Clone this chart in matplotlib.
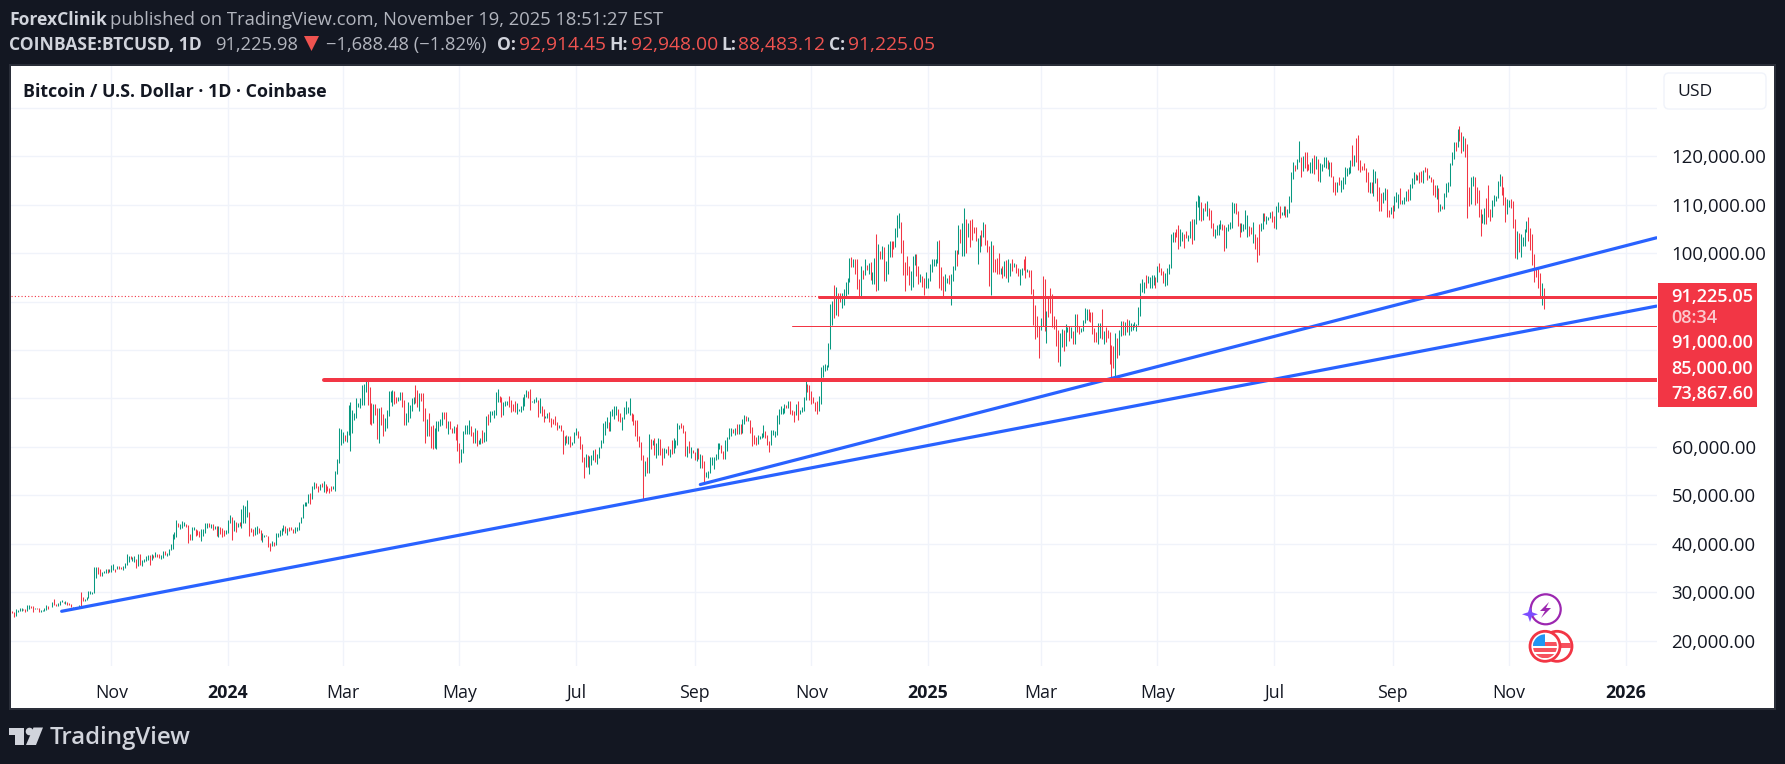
import matplotlib
matplotlib.use("Agg")
from matplotlib import pyplot as plt
from matplotlib.patches import Rectangle, FancyBboxPatch, Circle, Polygon
import matplotlib.dates as mdates
import pandas as pd

plt.rcParams['font.family'] = ['Open Sans', 'DejaVu Sans']

# daily high / low in thousands of USD, one set per month, c = bar colour
h_2309 = [26.2,25.9,26.5,26.4,26.7,26.8,26.6,26.6,27.4,27.4,27.2,27.1,26.7,26.7,26.7,26.3,26.4,26.8,27.3,27.2,27.0]
l_2309 = [25.6,24.9,25.1,25.8,26.1,26.2,26.4,26.0,26.2,26.6,26.7,26.0,26.5,26.5,26.0,26.0,26.1,26.2,26.4,26.6,26.9]
c_2309 = "rrggggrrggrrgrrggggrg"
h_2310 = [28.0,28.6,27.6,27.8,28.1,28.3,28.0,28.1,28.0,27.7,27.5,26.9,27.0,27.0,27.3,30.0,28.9,28.6,29.0,30.2,30.2,30.1,35.2,35.2,35.1,34.8,34.2,34.4,34.8,34.8,34.7]
l_2310 = [27.0,27.4,27.2,27.2,27.4,27.9,27.8,27.5,27.3,27.3,27.0,26.6,26.7,26.8,26.9,27.1,28.1,28.1,28.4,28.8,29.6,29.6,29.8,32.9,33.7,33.4,33.4,33.9,34.0,34.0,34.1]
c_2310 = "grrgggrgrrrgrggrrgggggggrrgggrg"
h_2311 = [35.6,35.9,34.8,35.3,35.4,35.2,35.3,36.0,37.9,37.5,37.4,37.2,37.4,36.8,37.9,37.9,36.7,36.8,37.5,37.7,37.6,37.8,37.7,38.3,37.8,37.8,37.6,38.4,38.4,38.0]
l_2311 = [34.1,34.5,34.1,34.7,34.8,34.8,34.5,35.0,35.6,36.3,36.8,36.4,36.3,35.0,35.4,35.6,35.5,36.2,36.5,36.6,35.7,36.7,37.0,37.2,37.3,37.1,36.9,37.0,37.6,37.5]
c_2311 = "ggrgrrggggrggrgrggggrgrgrrggrg"
h_2312 = [39.0,39.9,42.0,42.5,45.0,44.3,44.0,44.7,44.4,44.0,43.8,42.0,43.4,43.4,43.1,42.8,42.6,43.0,43.0,44.2,44.2,44.3,44.0,44.0,43.7,43.6,43.7,43.5,43.2,42.9,42.8]
l_2312 = [37.6,38.7,39.0,41.0,41.4,43.4,43.0,43.2,43.6,43.5,40.2,40.7,40.7,42.9,41.6,41.8,41.3,40.6,41.6,42.2,43.3,43.4,43.3,42.9,43.1,41.5,41.4,42.1,41.4,41.6,42.0]
c_2312 = "gggggrgggrrrggrrrggggrgrgrgrrrg"
h_2401 = [44.9,45.9,45.5,44.8,44.4,44.2,44.5,47.2,47.9,47.7,49.0,46.5,43.2,43.0,43.4,43.6,43.2,42.9,42.2,41.9,41.9,41.7,40.1,40.6,40.3,42.2,42.2,42.8,43.3,43.9,43.7]
l_2401 = [42.2,44.3,40.8,42.6,42.5,43.4,43.6,43.2,44.3,44.3,45.6,41.5,42.4,41.7,41.8,42.1,42.2,40.7,40.3,41.4,41.5,39.4,38.5,39.5,39.5,39.8,41.4,41.6,41.8,42.7,42.3]
c_2401 = "ggrgrgrggggrrrggrrggrrrgrgggggr"
h_2402 = [43.3,43.4,43.4,43.1,43.5,43.4,44.4,45.6,48.2,48.6,48.6,50.3,50.4,52.0,52.8,52.6,52.0,52.4,52.5,52.9,52.4,52.0,51.5,51.9,51.9,55.0,57.6,63.9,63.6]
l_2402 = [41.9,42.6,42.9,42.3,42.3,42.6,42.8,44.3,45.3,47.7,47.7,48.4,48.3,49.3,51.3,51.6,50.6,51.1,51.7,50.7,50.5,50.9,50.5,50.9,51.3,50.9,54.4,56.7,60.4]
c_2402 = "grrrggggggggrggrrgrgrrrrggggg"
h_2403 = [63.1,62.4,63.2,68.6,69.3,67.6,67.0,70.0,69.0,70.0,72.8,73.0,73.8,73.8,72.4,69.0,68.8,68.9,68.1,68.1,68.2,66.7,65.9,67.6,71.5,71.5,71.7,71.5,70.3,70.3,71.4]
l_2403 = [60.8,61.3,61.1,62.4,59.2,62.9,65.6,66.0,68.2,68.0,68.7,68.7,71.4,68.7,64.7,64.6,65.0,66.6,61.6,60.8,64.6,62.3,63.3,63.8,66.4,69.3,68.4,68.9,69.0,69.5,69.6]
c_2403 = "grgggggggggggrrrgrrgrrgggggrrgg"
h_2404 = [71.3,69.7,66.9,69.3,68.7,70.0,70.3,72.7,71.7,71.2,71.2,71.2,68.0,65.8,66.9,64.4,64.5,64.0,65.4,65.4,65.7,67.2,67.2,67.2,65.3,65.3,64.0,64.4,64.2,64.7]
l_2404 = [68.2,64.5,64.5,65.1,66.0,67.5,68.8,69.0,68.2,67.5,69.5,65.3,60.8,62.2,62.3,59.7,59.6,59.7,59.5,63.2,64.3,64.6,65.7,63.8,62.7,63.7,62.9,62.8,61.4,59.2]
c_2404 = "rrgggggrrgrrrgrrrgggggrrgrrgrr"
h_2405 = [60.8,59.6,63.3,64.5,64.6,65.5,64.4,63.0,63.9,63.5,61.5,61.9,63.4,63.1,66.4,66.7,67.4,67.4,67.7,71.4,71.9,70.6,70.2,69.2,69.5,69.5,70.6,69.6,68.9,69.5,69.0]
l_2405 = [56.6,56.9,58.8,62.6,62.7,62.7,62.3,60.9,60.7,60.2,60.5,60.6,60.8,61.1,61.3,64.6,65.1,66.6,65.9,66.6,69.2,69.2,66.2,66.6,68.5,68.6,68.2,67.2,67.5,67.2,66.7]
c_2405 = "rgggggrrgrggrggrgggggrrgggrrrrg"
h_2406 = [67.8,68.4,70.2,71.0,71.7,71.6,71.9,69.5,69.9,70.2,69.6,70.0,68.4,67.9,66.4,66.9,67.3,66.0,65.7,66.4,65.1,64.5,64.5,63.4,62.3,62.4,62.3,62.2,61.0,63.0]
l_2406 = [67.4,67.3,67.6,68.5,70.4,70.1,67.6,69.2,69.1,69.2,66.1,66.9,66.3,65.1,65.9,66.0,65.1,64.1,64.7,64.6,63.4,64.0,63.3,58.5,60.4,60.7,60.6,60.0,60.4,60.8]
c_2406 = "gggggrrgggrgrrggrrrrrgrrgrgrgg"
h_2407 = [63.8,63.3,62.3,60.5,58.0,58.5,58.4,58.2,58.3,59.4,59.5,58.6,60.0,61.4,65.0,65.4,66.1,65.1,67.5,67.8,68.4,68.5,67.8,67.1,66.1,68.3,69.4,68.3,70.0,67.0,66.8]
l_2407 = [62.5,61.8,59.5,56.8,53.5,55.9,55.8,54.3,56.3,57.2,56.9,56.5,57.8,59.8,60.7,62.4,63.9,63.2,63.3,66.3,65.8,66.6,65.4,65.1,63.5,65.7,66.7,67.1,66.6,65.3,64.5]
c_2407 = "grrrrgrgggrggggggrggggrrgggggrr"
h_2408 = [65.6,65.6,62.2,61.1,58.3,57.0,57.9,62.7,61.7,61.4,61.8,60.7,61.8,61.7,59.8,59.8,59.6,60.2,59.6,61.4,61.8,61.4,64.9,64.5,65.0,64.5,63.2,60.2,61.2,60.0,59.4]
l_2408 = [62.3,61.2,60.0,57.2,49.1,53.9,54.6,54.7,59.6,60.3,58.3,57.7,58.4,58.4,56.2,57.7,58.8,58.4,57.9,58.5,58.8,59.8,60.3,63.6,63.8,62.8,58.1,57.9,58.7,57.8,58.8]
c_2408 = "rrrrrgrgrgrggrrggrgrggggrrrgrgr"
h_2409 = [59.0,59.8,59.8,58.5,58.3,57.0,54.8,55.0,58.0,58.0,58.0,58.6,60.7,60.7,60.4,59.2,61.4,62.0,63.8,64.0,63.6,63.9,64.7,64.7,64.8,65.8,66.5,66.3,66.1,65.5]
l_2409 = [57.2,57.1,57.4,55.6,55.6,52.5,53.7,53.6,54.6,56.3,55.5,57.3,57.6,59.5,58.7,57.5,57.6,59.2,61.6,62.3,62.8,62.4,62.6,62.7,62.7,62.9,64.8,65.4,65.4,62.9]
c_2409 = "rgrgrrggggggggrrggggrgrgrggrgr"
h_2410 = [64.1,62.4,62.0,62.4,62.2,62.9,64.5,63.2,62.5,61.3,63.4,63.4,63.2,66.5,67.9,68.4,68.0,68.9,68.7,69.4,69.4,67.7,67.4,68.8,69.4,67.6,68.2,70.2,73.6,72.9,72.7]
l_2410 = [60.2,60.5,60.3,60.5,61.7,61.8,62.1,61.9,60.3,58.9,60.4,62.4,62.0,62.4,64.8,66.7,66.8,67.0,68.0,68.1,66.7,66.6,65.2,66.5,65.6,66.7,67.3,67.5,69.7,71.4,69.6]
c_2410 = "rrrggggrrrggggggggrgrrrgrggggrr"
h_2411 = [71.6,70.3,69.3,69.5,70.5,76.4,76.9,77.2,77.0,81.5,89.6,90.2,93.4,93.0,91.8,91.8,91.7,92.6,94.0,94.9,99.0,99.3,98.9,98.7,98.9,94.7,97.4,96.6,98.7,97.5]
l_2411 = [68.8,69.0,67.4,66.8,67.5,68.8,74.5,75.6,75.9,76.5,80.2,85.1,86.6,87.3,87.0,90.0,88.7,89.4,90.9,91.5,94.1,97.2,97.2,95.7,92.6,90.8,91.0,94.7,95.4,96.5]
c_2411 = "rrrrggggggggrgrrgggggrgrrrgrgr"
h_2412 = [97.9,98.2,96.2,99.0,104.0,102.0,100.5,101.4,101.2,98.3,101.9,102.5,102.5,102.5,105.2,107.9,108.2,106.5,102.7,98.2,99.5,97.4,96.4,99.4,99.9,99.9,97.3,95.7,95.2,94.9,96.1]
l_2412 = [95.8,94.5,93.6,93.6,92.2,92.5,98.8,98.7,94.2,94.2,95.7,99.3,99.2,100.8,101.3,103.3,105.3,100.0,95.6,92.2,95.4,93.4,92.3,93.0,97.6,95.2,93.6,94.1,93.1,91.3,92.9]
c_2412 = "grggrgrgrgggrrgggrrrrrgggrrgrrg"
h_2501 = [94.9,97.8,98.9,98.7,98.8,102.5,102.7,97.2,95.3,95.8,94.9,95.4,95.7,97.3,100.7,100.7,105.9,104.9,106.3,109.4,107.1,106.3,106.8,107.1,105.4,105.4,103.2,103.7,104.7,106.4,106.0]
l_2501 = [92.8,94.2,96.1,97.3,97.3,97.9,92.8,92.5,91.2,92.2,93.9,93.7,89.3,94.3,96.5,97.3,99.9,102.2,99.5,99.4,100.1,103.3,101.2,102.8,104.1,102.5,97.7,100.3,101.4,103.3,101.6]
c_2501 = "ggggggrrrggrgggrgrggrgrrrrggrgr"
h_2502 = [102.7,101.4,102.5,101.7,98.8,99.1,100.1,96.9,97.3,98.3,98.5,98.7,97.9,98.8,97.9,97.7,97.0,96.7,96.9,98.7,99.5,96.8,96.5,96.6,92.7,89.4,87.1,85.0]
l_2502 = [100.3,93.3,91.3,96.2,96.2,95.7,95.7,95.7,94.8,95.3,94.9,94.1,95.3,96.3,97.2,96.0,95.2,93.4,95.4,96.5,94.8,96.2,95.1,91.5,85.1,82.3,82.7,78.3]
c_2502 = "rrgrrrrgrgrggrgrrggrrgrrrrrr"
h_2503 = [86.6,95.2,94.6,88.0,91.0,92.9,91.5,87.0,86.5,84.1,83.6,84.4,84.2,85.3,84.7,85.0,84.8,84.0,87.4,87.4,85.0,84.5,86.2,88.7,88.5,88.4,87.9,87.9,84.6,83.8,85.5]
l_2503 = [84.2,85.0,83.9,81.4,86.8,87.6,84.7,84.3,80.8,77.5,76.7,80.6,79.9,80.8,83.7,81.9,82.5,81.3,81.3,83.7,83.3,83.7,83.9,85.5,86.3,85.9,85.8,83.4,81.6,81.6,81.3]
c_2503 = "grrgrrrrrrggrggrgrgrrggggrrrrrg"
h_2504 = [85.5,88.5,83.9,84.7,84.2,83.7,81.1,80.9,83.5,82.5,84.2,85.9,86.1,85.8,86.4,86.3,85.5,85.4,85.7,85.3,88.8,93.9,94.7,94.0,95.5,95.3,95.0,95.6,95.5,95.0]
l_2504 = [82.4,82.3,81.2,81.6,82.4,77.2,74.4,76.2,74.6,78.4,79.0,82.9,83.1,83.1,83.7,83.1,83.9,84.1,84.7,83.9,85.1,87.1,91.9,91.7,92.9,93.9,92.9,92.9,93.4,92.9]
c_2504 = "grgrrrrrgrggrgrgggggggggrggggr"
h_2505 = [97.4,97.9,97.0,96.3,95.9,96.9,97.7,103.9,104.4,104.4,104.9,105.8,104.9,104.3,104.0,104.6,103.8,106.7,107.1,107.0,110.7,112.0,111.9,110.5,109.4,110.4,110.7,109.3,108.9,106.3,104.9]
l_2505 = [94.0,96.2,95.6,93.9,93.3,93.4,95.8,96.9,102.3,102.3,103.4,100.8,101.4,102.6,101.1,103.1,102.6,103.1,102.0,102.8,106.1,109.5,106.8,106.7,106.8,108.7,107.6,106.8,105.3,103.6,103.1]
c_2505 = "grrrgggggrrrggrrggrggggrgrgrrrg"
h_2506 = [105.8,106.0,106.8,106.0,105.9,105.4,106.0,106.4,110.6,110.4,110.4,108.8,106.2,106.2,106.1,108.9,107.8,105.6,105.4,106.5,103.9,103.4,106.0,106.2,108.2,108.3,107.7,107.5,108.5,108.8]
l_2506 = [103.7,103.7,105.0,104.7,100.4,101.1,104.5,105.0,105.3,108.4,108.0,105.6,103.4,104.3,104.5,105.0,103.4,103.5,103.9,102.2,100.8,98.2,99.6,104.6,105.0,106.6,106.0,106.8,107.2,106.4]
c_2506 = "gggrrgggggrrrggggrrgrrrggrgggr"
h_2507 = [107.6,109.7,110.6,109.8,108.5,109.7,109.8,109.2,111.9,116.8,118.9,118.2,119.5,123.2,119.9,120.0,120.9,120.9,118.5,118.9,119.7,120.2,120.0,119.5,118.6,118.5,119.8,119.9,119.2,118.8,118.9]
l_2507 = [105.2,105.1,108.6,107.3,107.8,107.8,107.5,107.4,108.4,110.6,115.3,116.9,117.3,118.9,115.7,116.9,117.5,116.9,117.2,116.6,116.6,116.3,117.3,115.0,114.7,117.0,117.8,117.5,117.4,115.9,115.7]
c_2507 = "rggrggrggggrggrgrrrggrgrggggrgr"
h_2508 = [116.0,114.8,114.8,115.8,115.1,115.7,117.7,117.6,117.9,119.3,122.3,120.3,123.7,124.5,119.2,118.0,118.6,117.6,116.8,114.8,114.8,117.4,117.0,115.6,113.6,112.4,112.6,113.4,113.3,108.9,109.5]
l_2508 = [112.7,112.0,112.7,114.1,112.7,113.3,114.3,115.9,116.3,116.6,118.1,118.0,118.9,117.2,116.8,117.2,117.2,114.7,112.6,112.4,112.4,111.8,114.4,110.8,108.7,108.7,110.4,110.9,107.4,107.4,108.0]
c_2508 = "rrgrggggggrgrrrrrrrgrggrrrggrrg"
h_2509 = [109.9,111.8,112.6,112.2,113.4,111.0,111.7,112.9,113.2,114.3,115.5,116.7,116.4,116.1,116.8,117.0,117.2,117.9,117.5,116.2,115.8,115.4,114.0,114.0,113.5,110.2,109.8,112.4,114.5,114.8]
l_2509 = [107.3,108.8,110.6,109.3,110.2,110.2,110.2,110.7,110.8,110.9,113.4,114.2,115.2,115.2,114.4,114.8,114.6,116.8,115.1,115.5,114.8,112.0,111.7,111.1,108.6,108.7,109.2,109.1,111.6,112.7]
c_2509 = "rgggrgggrgggrgrrgrrgrrrgrgrggg"
h_2510 = [118.7,121.0,122.9,122.9,125.7,126.3,125.1,124.2,123.8,122.5,113.6,115.8,116.0,115.8,113.6,113.1,109.2,108.0,109.4,111.5,114.0,109.2,110.9,112.0,111.9,114.9,116.3,116.0,113.6,111.6,111.2]
l_2510 = [113.9,118.2,119.4,121.1,122.0,123.1,120.6,121.1,119.8,107.2,109.7,110.2,113.8,109.9,110.3,107.5,103.6,106.3,106.1,106.1,107.4,106.7,107.5,109.8,110.7,111.3,113.8,112.1,109.9,106.4,108.0]
c_2510 = "gggrgrrgrrrggrrrrggrrrgggggrrrg"
h_2511 = [111.0,111.2,110.8,107.0,104.5,104.1,104.0,103.4,105.0,106.6,107.5,105.3,104.0,99.9,97.0,96.7,96.0,93.9,92.9]
l_2511 = [109.6,109.4,105.3,99.0,98.9,100.3,99.3,101.4,101.5,104.3,102.5,100.6,97.6,94.1,95.1,92.9,91.2,89.3,88.5]
c_2511 = "grrrgrggggrrrrrrrgr"

month_starts = ["2023-09-10", "2023-10-01", "2023-11-01", "2023-12-01", "2024-01-01", "2024-02-01", "2024-03-01",
                "2024-04-01", "2024-05-01", "2024-06-01", "2024-07-01", "2024-08-01", "2024-09-01", "2024-10-01",
                "2024-11-01", "2024-12-01", "2025-01-01", "2025-02-01", "2025-03-01", "2025-04-01", "2025-05-01",
                "2025-06-01", "2025-07-01", "2025-08-01", "2025-09-01", "2025-10-01", "2025-11-01"]
month_highs = [h_2309, h_2310, h_2311, h_2312, h_2401, h_2402, h_2403, h_2404, h_2405, h_2406, h_2407, h_2408, h_2409,
               h_2410, h_2411, h_2412, h_2501, h_2502, h_2503, h_2504, h_2505, h_2506, h_2507, h_2508, h_2509, h_2510, h_2511]
month_lows = [l_2309, l_2310, l_2311, l_2312, l_2401, l_2402, l_2403, l_2404, l_2405, l_2406, l_2407, l_2408, l_2409,
              l_2410, l_2411, l_2412, l_2501, l_2502, l_2503, l_2504, l_2505, l_2506, l_2507, l_2508, l_2509, l_2510, l_2511]
month_colors = [c_2309, c_2310, c_2311, c_2312, c_2401, c_2402, c_2403, c_2404, c_2405, c_2406, c_2407, c_2408, c_2409,
                c_2410, c_2411, c_2412, c_2501, c_2502, c_2503, c_2504, c_2505, c_2506, c_2507, c_2508, c_2509, c_2510, c_2511]

# trend lines (date, price)
trend1_dates = ["2023-10-06", "2026-01-17"]
trend1_prices = [26050, 89070]
trend2_dates = ["2024-09-04", "2026-01-17"]
trend2_prices = [52230, 103180]

# horizontal levels: start date, price, width in px
level_starts = ["2024-11-05", "2024-10-22", "2024-02-20"]
level_prices = [91000, 85000, 73867.6]
level_widths = [3, 1, 4]
last_price = 91225.05

xtick_dates = ["2023-11-01", "2024-01-01", "2024-03-01", "2024-05-01", "2024-07-01", "2024-09-01", "2024-11-01",
               "2025-01-01", "2025-03-01", "2025-05-01", "2025-07-01", "2025-09-01", "2025-11-01", "2026-01-01"]
xtick_labels = ["Nov", "2024", "Mar", "May", "Jul", "Sep", "Nov", "2025", "Mar", "May", "Jul", "Sep", "Nov", "2026"]
ytick_values = list(range(20000, 130001, 10000))
hidden_ylabels = [70000, 80000, 90000, 130000]

price_tags = ["91,225.05", "08:34", "91,000.00", "85,000.00", "73,867.60"]

BG = '#131722'
RED = '#f23645'
GREEN = '#089981'
BLUE = '#2962ff'
GRID = '#f0f3fa'
W, H = 1785, 764

def d2n(s):
    return mdates.date2num(pd.Timestamp(s))

fig = plt.figure(figsize=(W / 100, H / 100), dpi=100, facecolor=BG)

# pixel overlay behind the chart for the white panel
back = fig.add_axes([0, 0, 1, 1], zorder=0)
back.set_xlim(0, W)
back.set_ylim(H, 0)
back.axis('off')
back.add_patch(Rectangle((9, 64), 1767, 646, fc='#2a2e39', ec='none'))
back.add_patch(Rectangle((11, 66), 1763, 642, fc='white', ec='none'))

ax = fig.add_axes([11 / W, 1 - 666 / H, 1646 / W, 600 / H], zorder=1)
ax.patch.set_alpha(0)
ax.set_xlim(d2n("2023-09-09 12:00"), d2n("2026-01-17 07:00"))
ax.set_ylim(14750, 138660)
for s in ax.spines.values():
    s.set_visible(False)

bar_x, bar_lo, bar_hi, bar_col = [], [], [], []
for start, hs, ls, cs in zip(month_starts, month_highs, month_lows, month_colors):
    x0 = d2n(start)
    for i in range(len(hs)):
        bar_x.append(x0 + i)
        bar_hi.append(hs[i] * 1000)
        bar_lo.append(ls[i] * 1000)
        bar_col.append(GREEN if cs[i % len(cs)] == 'g' else RED)
bars = ax.vlines(bar_x, bar_lo, bar_hi, colors=bar_col, linewidth=0.75, zorder=3)
bars.set_snap(True)

ax.plot([d2n(d) for d in trend1_dates], trend1_prices, color=BLUE, lw=2.3, solid_capstyle='round', zorder=5)
ax.plot([d2n(d) for d in trend2_dates], trend2_prices, color=BLUE, lw=2.3, solid_capstyle='round', zorder=5)

right = d2n("2026-01-17 07:00")
for st, p, w in zip(level_starts, level_prices, level_widths):
    ax.plot([d2n(st), right], [p, p], color=RED, lw=w * 0.72, solid_capstyle='round', zorder=6)
ax.plot([ax.get_xlim()[0], d2n(level_starts[0])], [last_price, last_price], color=RED, lw=0.8, ls=(0, (1, 2)), zorder=2)

ax.set_xticks([d2n(d) for d in xtick_dates])
ax.set_xticklabels(xtick_labels)
ax.yaxis.tick_right()
ax.set_yticks(ytick_values)
ax.set_yticklabels(["" if v in hidden_ylabels else f"{v:,.2f}" for v in ytick_values])
ax.tick_params(axis='both', length=0, labelcolor='#131722')
ax.tick_params(axis='x', pad=13, labelsize=12.8)
ax.tick_params(axis='y', pad=10.5, labelsize=13.4)
for lab in ax.get_yticklabels():
    lab.set_ha('left')
for lab in ax.get_xticklabels():
    if lab.get_text().isdigit():
        lab.set_fontweight('bold')
ax.grid(True, color=GRID, lw=1.0, zorder=0)
ax.set_axisbelow(True)

# pixel overlay for the page furniture
ov = fig.add_axes([0, 0, 1, 1], zorder=2)
ov.set_xlim(0, W)
ov.set_ylim(H, 0)
ov.axis('off')

def txt(x, y, s, color='#d1d4dc', size=13.2, weight='normal', ha='left'):
    ov.text(x, y, s, color=color, fontsize=size, fontweight=weight, ha=ha, va='center')

txt(9, 20, "ForexClinik", weight='bold', size=12.6)
txt(110.5, 20, "published on TradingView.com, November 19, 2025 18:51:27 EST", color='#b2b5be')
txt(9, 45, "COINBASE:BTCUSD, 1D", weight='bold', size=12.6)
txt(215.5, 45, "91,225.98", color='#b2b5be')
ov.add_patch(Polygon([(304, 36), (319, 36), (311.5, 51)], fc='#ef5350', ec='none'))
txt(326, 45, "\u22121,688.48 (\u22121.82%)", color='#b2b5be')
for xl, xv, name, val in [(496.7, 519, "O:", "92,914.45"), (609, 630.7, "H:", "92,948.00"),
                          (721.7, 738, "L:", "88,483.12"), (829, 848.3, "C:", "91,225.05")]:
    txt(xl, 45, name, weight='bold', size=12.6)
    txt(xv, 45, val, color='#ef5350', size=13.9)

txt(23, 92, "Bitcoin / U.S. Dollar \u00b7 1D \u00b7 Coinbase", color='#131722', weight='bold', size=12.85)

ov.add_patch(FancyBboxPatch((1664, 73), 102, 36, boxstyle="round,pad=0,rounding_size=5", fc='white', ec='#f0f3fa', lw=1))
txt(1677, 92, "USD", color='#131722', size=12.6)

# red price tags
ov.add_patch(Rectangle((1658, 283), 98.7, 123.7, fc=RED, ec='none', zorder=3))
tag_y = [297, 318, 343, 368.5, 394]
for s, y in zip(price_tags, tag_y):
    ov.text(1671, y, s, color='#fbc9ce' if s == "08:34" else 'white', fontsize=13.1, fontweight='semibold', ha='left', va='center', zorder=4)

# purple alert icon
ov.add_patch(Circle((1545.7, 609.3), 15, fc='white', ec='#9c27b0', lw=1.6, zorder=3))
ov.add_patch(Polygon([(1549, 602), (1540, 611), (1545, 611), (1541, 618), (1551, 608), (1546, 608)], fc='#9c27b0', ec='none', zorder=4))
ov.add_patch(Polygon([(1530, 606.5), (1532, 612.3), (1538, 614.3), (1532, 616.3), (1530, 622), (1528, 616.3), (1522, 614.3), (1528, 612.3)],
                     fc='#7c4dff', ec='none', zorder=5))

# flag coins
ov.add_patch(Circle((1557, 646.3), 15, fc='white', ec=RED, lw=2, zorder=3))
ov.add_patch(Rectangle((1557, 643), 14, 5, fc='#f7525f', ec='none', zorder=3))
ov.add_patch(Circle((1545, 646.3), 15, fc='white', ec=RED, lw=2, zorder=4))
coin = Circle((1545, 646.3), 12, transform=ov.transData)
for yy in [642, 648, 654]:
    r = Rectangle((1533, yy), 24, 4, fc='#f7525f', ec='none', zorder=5)
    ov.add_patch(r)
    r.set_clip_path(coin)
canton = Rectangle((1533, 634), 12, 12, fc='#2196f3', ec='none', zorder=6)
ov.add_patch(canton)
canton.set_clip_path(coin)

# footer logo
LOGO = '#d1d4dc'
ov.add_patch(Polygon([(9, 727.5), (23.5, 727.5), (23.5, 745), (15, 745), (15, 735), (9, 735)], fc=LOGO, ec='none'))
ov.add_patch(Circle((29.5, 731.5), 3.8, fc=LOGO, ec='none'))
ov.add_patch(Polygon([(33.5, 727.5), (43, 727.5), (36, 745), (26, 745)], fc=LOGO, ec='none'))
txt(50, 738, "TradingView", color=LOGO, size=17.3, weight='semibold')

fig.savefig("out.png", dpi=100, facecolor=BG)
